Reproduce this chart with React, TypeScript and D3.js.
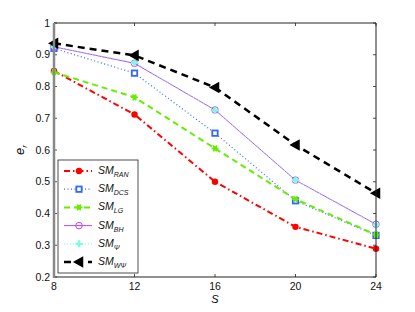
import React, { useRef, useEffect } from 'react';
import * as d3 from 'd3';

const sValues = [8, 12, 16, 20, 24];
const yTicks = [0.2, 0.3, 0.4, 0.5, 0.6, 0.7, 0.8, 0.9, 1];

const ran = [0.849, 0.712, 0.5, 0.358, 0.289];
const dcs = [0.92, 0.842, 0.653, 0.44, 0.331];
const lg = [0.845, 0.766, 0.605, 0.445, 0.333];
const bh = [0.925, 0.873, 0.726, 0.505, 0.366];
const psi = [0.925, 0.875, 0.725, 0.505, 0.365];
const wpsi = [0.936, 0.898, 0.797, 0.616, 0.464];

const series = [
  { name: 'RAN', values: ran, color: '#ff0000', width: 2, dash: '6,3,1.5,3', marker: 'dot' },
  { name: 'DCS', values: dcs, color: '#3366ff', width: 1.2, dash: '1,2.5', marker: 'square' },
  { name: 'LG', values: lg, color: '#66ee00', width: 2, dash: '6,4', marker: 'star' },
  { name: 'BH', values: bh, color: '#bb44ff', width: 1, dash: null, marker: 'circle' },
  { name: 'Ψ', values: psi, color: '#77ffdd', width: 1, dash: '1,2', marker: 'plus' },
  { name: 'WΨ', values: wpsi, color: '#000000', width: 2.5, dash: '7,5', marker: 'tri' },
];

function drawMarker(g: any, kind: string, x: number, y: number, color: string) {
  if (kind === 'dot') {
    g.append('circle').attr('cx', x).attr('cy', y).attr('r', 3.2).attr('fill', color);
  } else if (kind === 'square') {
    g.append('rect').attr('x', x - 2.7).attr('y', y - 2.7).attr('width', 5.4).attr('height', 5.4)
      .attr('fill', 'white').attr('stroke', color).attr('stroke-width', 1.8);
  } else if (kind === 'star') {
    g.append('circle').attr('cx', x).attr('cy', y).attr('r', 2.4).attr('fill', color);
    [0, 60, 120].forEach(a => {
      const r = (a * Math.PI) / 180;
      g.append('line').attr('x1', x - 3.5 * Math.cos(r)).attr('y1', y - 3.5 * Math.sin(r))
        .attr('x2', x + 3.5 * Math.cos(r)).attr('y2', y + 3.5 * Math.sin(r))
        .attr('stroke', color).attr('stroke-width', 1.5);
    });
  } else if (kind === 'circle') {
    g.append('circle').attr('cx', x).attr('cy', y).attr('r', 3.3).attr('fill', 'none')
      .attr('stroke', color).attr('stroke-width', 1);
  } else if (kind === 'plus') {
    g.append('path').attr('d', `M${x - 3.5},${y}H${x + 3.5}M${x},${y - 3.5}V${y + 3.5}`)
      .attr('stroke', color).attr('stroke-width', 2.2);
  } else if (kind === 'tri') {
    g.append('path').attr('d', `M${x - 4.5},${y}L${x + 3.5},${y - 4.5}L${x + 3.5},${y + 4.5}Z`)
      .attr('fill', color).attr('stroke', color).attr('stroke-width', 1.5);
  }
}

export default function App() {
  const svgRef = useRef<SVGSVGElement>(null);

  useEffect(() => {
    const svg = d3.select(svgRef.current);
    svg.selectAll('*').remove();

    const left = 54, right = 376, top = 23, bottom = 277;
    const x = d3.scaleLinear().domain([8, 24]).range([left, right]);
    const y = d3.scaleLinear().domain([0.2, 1]).range([bottom, top]);
    const font = 'Liberation Sans, Arial, sans-serif';

    svg.append('rect').attr('x', left).attr('y', top).attr('width', right - left).attr('height', bottom - top)
      .attr('fill', 'white');

    // ticks on all four sides
    const tk = svg.append('g').attr('stroke', '#222').attr('stroke-width', 0.8);
    sValues.forEach(v => {
      tk.append('line').attr('x1', x(v)).attr('x2', x(v)).attr('y1', bottom).attr('y2', bottom - 3);
      tk.append('line').attr('x1', x(v)).attr('x2', x(v)).attr('y1', top).attr('y2', top + 3);
    });
    yTicks.forEach(v => {
      tk.append('line').attr('x1', left).attr('x2', left + 3).attr('y1', y(v)).attr('y2', y(v));
      tk.append('line').attr('x1', right).attr('x2', right - 3).attr('y1', y(v)).attr('y2', y(v));
    });

    const lab = svg.append('g').attr('font-family', font).attr('font-size', 10.5).attr('fill', '#111');
    sValues.forEach(v => {
      lab.append('text').attr('x', x(v)).attr('y', bottom + 13).attr('text-anchor', 'middle').text(v);
    });
    yTicks.forEach(v => {
      lab.append('text').attr('x', left - 4).attr('y', y(v) + 3.5).attr('text-anchor', 'end')
        .text(v === 1 ? '1' : d3.format('.1f')(v));
    });

    // series
    const line = d3.line<number>().x((d, i) => x(sValues[i])).y(d => y(d));
    series.forEach(s => {
      const p = svg.append('path').datum(s.values).attr('d', line).attr('fill', 'none')
        .attr('stroke', s.color).attr('stroke-width', s.width);
      if (s.dash) p.attr('stroke-dasharray', s.dash);
      const g = svg.append('g');
      s.values.forEach((v, i) => drawMarker(g, s.marker, x(sValues[i]), y(v), s.color));
    });

    // frame
    svg.append('path').attr('d', `M${left},${top}H${right}V${bottom}H${left}`)
      .attr('fill', 'none').attr('stroke', '#222').attr('stroke-width', 1);
    svg.append('line').attr('x1', left).attr('x2', left).attr('y1', top).attr('y2', bottom + 1)
      .attr('stroke', '#888').attr('stroke-width', 2.5);

    // axis labels
    svg.append('text').attr('x', (left + right) / 2).attr('y', 303).attr('text-anchor', 'middle')
      .attr('font-family', font).attr('font-size', 11).attr('font-style', 'italic').text('S');
    const yl = svg.append('text').attr('transform', `translate(24,${(top + bottom) / 2}) rotate(-90)`)
      .attr('text-anchor', 'middle').attr('font-family', font).attr('font-size', 13).attr('font-style', 'italic');
    yl.append('tspan').text('e');
    yl.append('tspan').attr('font-size', 8).attr('dy', 3).text('r');

    // legend
    const lg0 = svg.append('g');
    lg0.append('rect').attr('x', 58).attr('y', 160).attr('width', 80).attr('height', 113)
      .attr('fill', 'white').attr('stroke', '#222').attr('stroke-width', 0.8);
    series.forEach((s, i) => {
      const ly = 171 + i * 18.2;
      const l = lg0.append('line').attr('x1', 64).attr('x2', 92).attr('y1', ly).attr('y2', ly)
        .attr('stroke', s.color).attr('stroke-width', s.width);
      if (s.dash) l.attr('stroke-dasharray', s.dash);
      drawMarker(lg0, s.marker, 79, ly, s.color);
      const t = lg0.append('text').attr('x', 98).attr('y', ly + 3).attr('font-family', font)
        .attr('font-size', 10.5).attr('font-style', 'italic').attr('fill', '#111');
      t.append('tspan').text('SM');
      t.append('tspan').attr('font-size', 7).attr('dy', 3).text(s.name);
    });
  }, []);

  return (
    <svg ref={svgRef} width={415} height={312}
      style={{ position: 'absolute', left: 0, top: 0, background: 'white' }} />
  );
}
